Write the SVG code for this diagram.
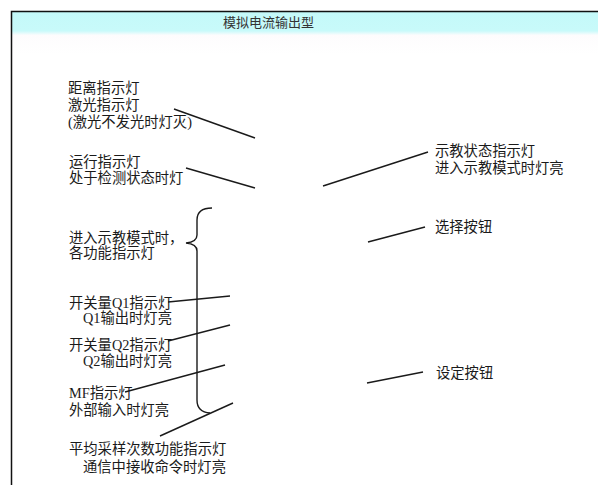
<svg xmlns="http://www.w3.org/2000/svg" width="598" height="485" viewBox="0 0 598 485">
<defs>
<linearGradient id="hdr" x1="0" y1="0" x2="0" y2="1">
<stop offset="0" stop-color="#c4f9f9"/>
<stop offset="0.45" stop-color="#c8fafa"/>
<stop offset="0.55" stop-color="#fdfcfd"/>
<stop offset="1" stop-color="#ffffff"/>
</linearGradient>
<style>
text{font-family:"Liberation Serif","Noto Sans CJK SC",serif;font-size:14.3px;fill:#1a1a1a}
.t{font-size:13px;fill:#333}
.c{stroke:#1a1a1a;stroke-width:1.4;fill:none}
</style>
</defs>
<rect width="598" height="485" fill="#fff"/>
<g id="frame">
<rect x="11" y="11" width="587" height="44" fill="url(#hdr)"/>
<path d="M11.5,485 V11.5 H598" fill="none" stroke="#111" stroke-width="1.5"/>
<text class="t" x="268.5" y="27" text-anchor="middle">模拟电流输出型</text>
</g>
<g id="connectors">
<path class="c" d="M174,109 L255,138"/>
<path class="c" d="M186,168 L255,188"/>
<path class="c" d="M323,186 L428,152"/>
<path class="c" d="M368,242 L425,227"/>
<path class="c" d="M367,383 L423,372"/>
<path class="c" d="M168,302 L230,296"/>
<path class="c" d="M168,341 L230,325"/>
<path class="c" d="M125,392 L225,365"/>
<path class="c" d="M160,436 L233,403"/>
<path class="c" d="M212,208 Q197,208 197,220 V235 Q197,242 186,243 Q197,244 197,251 V400 Q197,412 210,413"/>
</g>
<g id="n-laser">
<text x="68" y="93">距离指示灯</text>
<text x="68" y="110">激光指示灯</text>
<text x="68" y="127">(激光不发光时灯灭)</text>
</g>
<g id="n-run">
<text x="69" y="166.5">运行指示灯</text>
<text x="69" y="182.5">处于检测状态时灯</text>
</g>
<g id="n-teach">
<text x="435" y="156">示教状态指示灯</text>
<text x="435" y="173">进入示教模式时灯亮</text>
</g>
<g id="n-select">
<text x="435" y="232">选择按钮</text>
</g>
<g id="n-set">
<text x="436" y="378">设定按钮</text>
</g>
<g id="n-func">
<text x="69" y="243">进入示教模式时，</text>
<text x="69" y="258">各功能指示灯</text>
</g>
<g id="n-q1">
<text x="69" y="308">开关量Q1指示灯</text>
<text x="83" y="323">Q1输出时灯亮</text>
</g>
<g id="n-q2">
<text x="69" y="350">开关量Q2指示灯</text>
<text x="83" y="366">Q2输出时灯亮</text>
</g>
<g id="n-mf">
<text x="69" y="398">MF指示灯</text>
<text x="69" y="415">外部输入时灯亮</text>
</g>
<g id="n-avg">
<text x="69" y="454">平均采样次数功能指示灯</text>
<text x="83" y="472">通信中接收命令时灯亮</text>
</g>
</svg>
